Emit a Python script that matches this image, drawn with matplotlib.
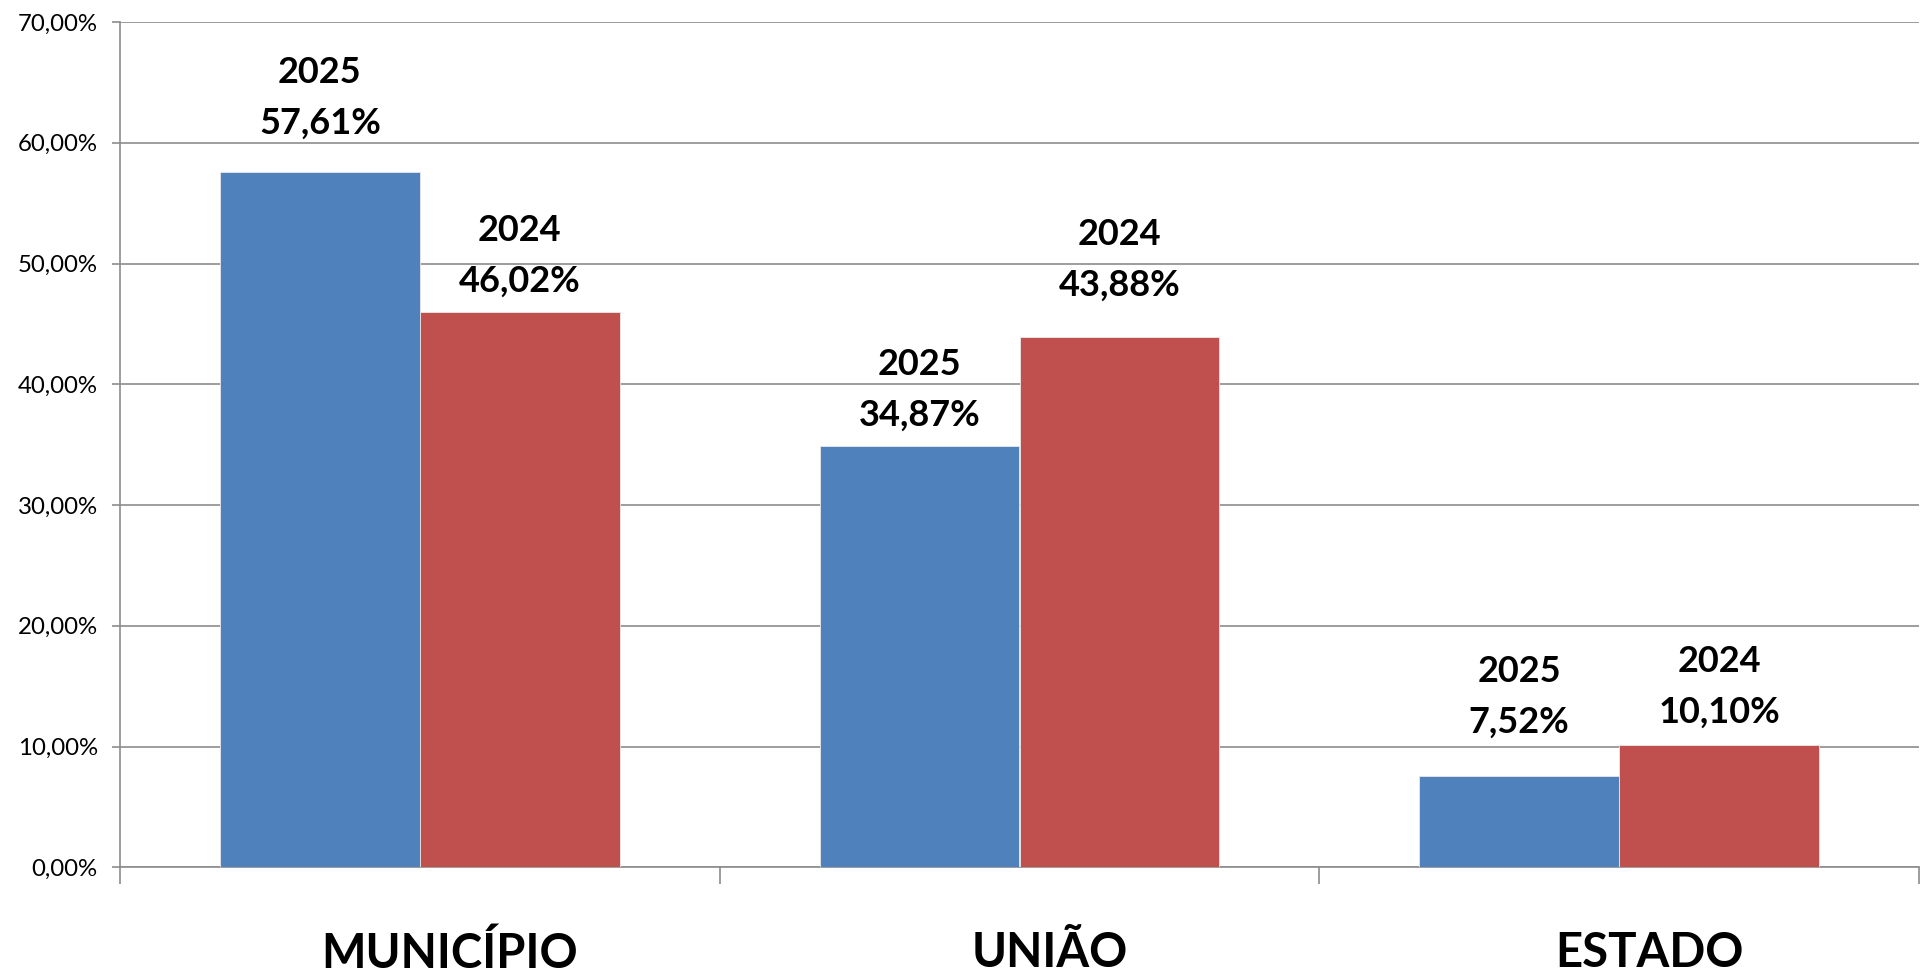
import matplotlib
matplotlib.use("Agg")
import matplotlib.pyplot as plt
import numpy as np

categories = ["MUNICÍPIO", "UNIÃO", "ESTADO"]
series_names = ["2025", "2024"]
values_2025 = [57.61, 34.87, 7.52]
values_2024 = [46.02, 43.88, 10.10]
yticks = [0, 10, 20, 30, 40, 50, 60, 70]

colors = ["#4F81BD", "#C0504D"]
# label offsets (pixels above bar top for value line), per series per category
label_off = [[50, 33, 56], [32, 54, 35]]

plt.rcParams['font.family'] = ['Lato', 'DejaVu Sans']

fig = plt.figure(figsize=(19.2, 9.72), dpi=100)
ax = fig.add_axes([120/1920, 104.7/972, 1799/1920, 845.3/972])

x = np.arange(len(categories))
w = 1/3
grid_c = "#8C8C8C"
for i, (vals, name) in enumerate(zip([values_2025, values_2024], series_names)):
    pos = x - w/2 + i*w
    ax.bar(pos, vals, width=w, color=colors[i], edgecolor="#E8E8E8", linewidth=0.6, zorder=3)
    for j, (p, v) in enumerate(zip(pos, vals)):
        off = label_off[i][j]
        ax.annotate(f"{name}\n{v:.2f}%".replace(".", ","), xy=(p, v),
                    xytext=(0, off*0.72 - 13), textcoords="offset points",
                    ha="center", va="bottom", fontsize=26, fontweight="bold",
                    linespacing=1.65, color="black", zorder=5)

ax.set_xlim(-0.5, 2.5)
ax.set_ylim(0, 70)
ax.set_yticks(yticks)
ax.set_yticklabels([f"{t:.2f}%".replace(".", ",") for t in yticks], fontsize=17.3)
ax.yaxis.grid(True, color=grid_c, linewidth=1.2, zorder=0)
ax.set_axisbelow(True)

ax.set_xticks([-0.5, 0.5, 1.5, 2.5])
ax.set_xticklabels([])
ax.set_xticks(x + 30/600, minor=True)
ax.set_xticklabels(categories, minor=True, fontsize=34, fontweight="bold")
ax.tick_params(axis="x", which="major", direction="out", length=12.5, color=grid_c, width=1.2)
ax.tick_params(axis="x", which="minor", length=0, pad=46)
ax.tick_params(axis="y", direction="out", length=6, color=grid_c, width=1.2, pad=10)

for s in ["top", "right"]:
    ax.spines[s].set_visible(False)
for s in ["left", "bottom"]:
    ax.spines[s].set_color(grid_c)
    ax.spines[s].set_linewidth(1.2)

fig.savefig("out.png", dpi=100, facecolor="white")
